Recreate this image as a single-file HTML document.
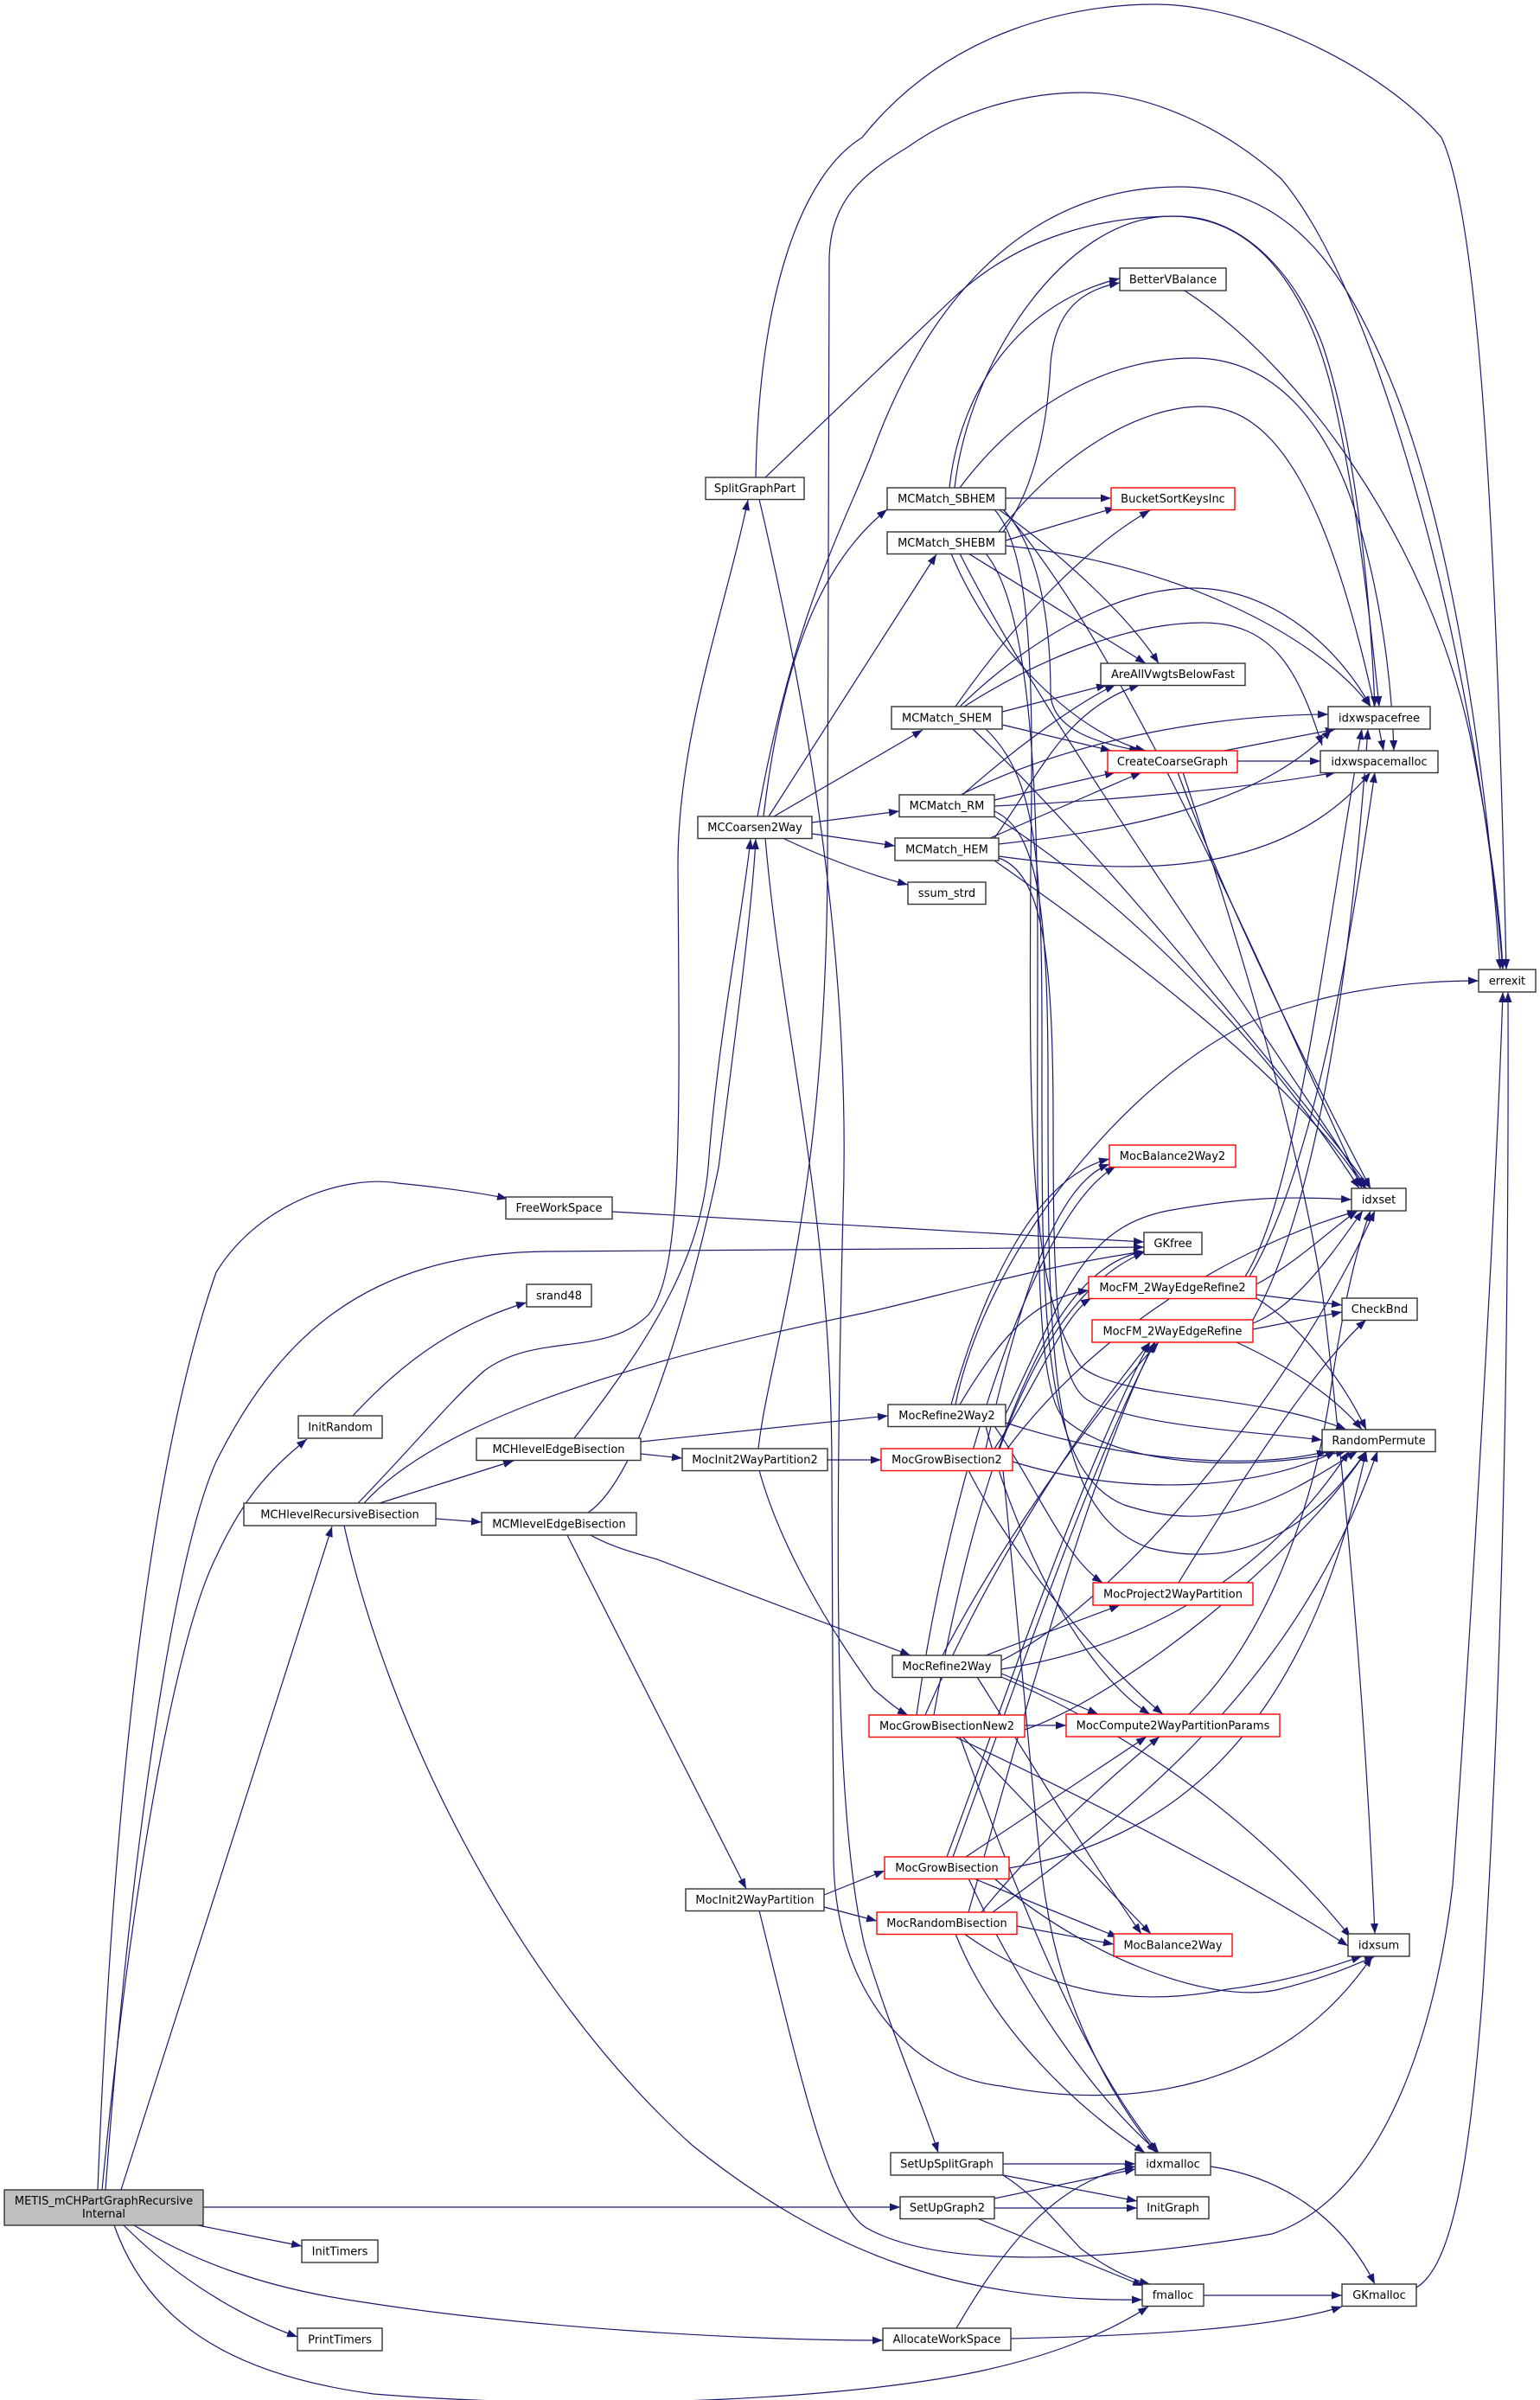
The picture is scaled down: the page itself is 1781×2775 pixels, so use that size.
<!DOCTYPE html>
<html>
<head>
<meta charset="utf-8">
<style>
html,body{margin:0;padding:0;background:#fff;}
svg{display:block;}
text{font-family:"DejaVu Sans","Liberation Sans",sans-serif;font-size:13px;fill:#000;}
.e{fill:none;stroke:#191970;stroke-width:1.2;}
.n{fill:#fff;stroke:#333;stroke-width:1.4;}
.r{fill:#fff;stroke:#ff0000;stroke-width:1.4;}
</style>
</head>
<body>
<svg width="1781" height="2775" viewBox="0 0 1781 2775" xmlns="http://www.w3.org/2000/svg">
<defs>
<marker id="a" viewBox="0 0 12 9" refX="12" refY="4.5" markerWidth="12" markerHeight="9" markerUnits="userSpaceOnUse" orient="auto">
<path d="M0,0 L12,4.5 L0,9 z" fill="#191970"/>
</marker>
</defs>
<rect x="0" y="0" width="1781" height="2775" fill="#fff"/>
<g class="e" marker-end="url(#a)">
<!-- METIS edges -->
<path d="M229 2573 L349 2597"/>
<path d="M143 2573 C190 2620 260 2672 344 2702"/>
<path d="M155 2573 C220 2612 300 2645 421 2662 C600 2690 850 2706 1021 2706"/>
<path d="M132 2573 C170 2680 260 2745 432 2768 C700 2790 1000 2772 1141 2740 C1230 2720 1290 2692 1328 2667"/>
<path d="M235 2552 L1041 2552"/>
<path d="M118 2532 C150 2200 200 1900 250 1800 C280 1735 310 1700 355 1664"/>
<path d="M140 2532 L384 1765"/>
<path d="M113 2532 C130 2100 170 1700 250 1471 C300 1390 400 1358 460 1368 C520 1374 560 1380 587 1386"/>
<path d="M122 2532 C150 2150 200 1800 250 1690 C320 1550 420 1449 633 1447 L1323 1442"/>
<!-- MCHlevelRecursiveBisection -->
<path d="M439 1738 L594 1689"/>
<path d="M504 1756 L557 1760"/>
<path d="M414 1738 C480 1670 520 1620 560 1585 C620 1540 700 1570 750 1520 C790 1470 786 1300 784 1000 C784 850 840 700 865 578"/>
<path d="M421 1738 C500 1650 700 1580 1000 1518 C1100 1495 1200 1465 1323 1447"/>
<path d="M398 1764 C450 2000 600 2300 800 2480 C950 2600 1100 2662 1321 2659"/>
<!-- FreeWorkSpace, InitRandom -->
<path d="M708 1401 L1323 1436"/>
<path d="M408 1637 C470 1570 530 1530 609 1506"/>
<!-- MCHlevelEdgeBisection -->
<path d="M664 1663 C760 1540 810 1450 819 1350 C830 1200 860 1050 868 970"/>
<path d="M741 1681 L789 1686"/>
<path d="M741 1667 L1027 1637"/>
<!-- MCMlevelEdgeBisection -->
<path d="M680 1749 C740 1710 800 1500 831 1350 C850 1200 870 1050 874 970"/>
<path d="M656 1775 C700 1860 750 1960 863 2184"/>
<path d="M683 1775 C710 1790 740 1797 760 1803 L1053 1914"/>
<!-- MocInit2WayPartition2 -->
<path d="M957 1688 L1019 1688"/>
<path d="M878 1700 C900 1780 950 1870 1010 1953 C1030 1970 1040 1978 1050 1983"/>
<path d="M877 1675 C890 1560 955 1400 957 1000 L959 300 C960 230 1000 200 1050 170 C1120 120 1200 107 1252 107 C1330 107 1420 150 1482 207 C1560 300 1620 500 1650 613 C1700 800 1728 1000 1738 1121"/>
<!-- MocInit2WayPartition -->
<path d="M953 2191 L1023 2163"/>
<path d="M953 2205 L1014 2221"/>
<path d="M878 2209 C930 2420 960 2550 1002 2576 C1080 2620 1250 2620 1471 2583 C1600 2540 1660 2350 1680 2180 C1700 1900 1730 1400 1738 1147"/>
<!-- SplitGraphPart -->
<path d="M874 552 C878 330 930 200 997 159 C1100 30 1250 5 1335 5 C1450 5 1600 80 1667 159 C1710 250 1730 600 1742 1121"/>
<path d="M885 552 L1099 348 C1180 270 1280 250 1361 250 C1440 250 1500 320 1530 400 C1570 520 1585 700 1590 817"/>
<path d="M878 577 C930 800 985 1100 975 1400 C965 1800 965 2100 1000 2250 C1030 2350 1070 2440 1085 2489"/>
<!-- MCCoarsen2Way -->
<path d="M883 944 C905 760 950 650 1026 589"/>
<path d="M889 944 L1083 641"/>
<path d="M895 944 L1067 844"/>
<path d="M939 951 L1040 938"/>
<path d="M939 964 L1035 978"/>
<path d="M905 969 C950 990 1000 1010 1050 1023"/>
<path d="M876 944 C920 700 980 600 1010 520 C1080 330 1200 216 1364 216 C1500 216 1560 330 1600 420 C1680 600 1720 900 1735 1121"/>
<path d="M885 969 C905 1200 962 1400 962 1700 L964 2150 C966 2300 1050 2400 1158 2412 C1300 2440 1480 2420 1587 2262"/>
<!-- MCMatch_SBHEM -->
<path d="M1163 576 L1285 576"/>
<path d="M1098 564 C1110 450 1180 350 1295 322"/>
<path d="M1155 589 C1240 650 1310 720 1340 767"/>
<path d="M1160 589 C1210 640 1215 750 1215 800 C1215 840 1260 858 1318 868"/>
<path d="M1104 564 C1120 420 1230 250 1355 250 C1450 250 1510 330 1540 450 C1570 580 1585 720 1595 817"/>
<path d="M1110 564 C1180 470 1280 414 1380 414 C1480 414 1540 500 1570 600 C1600 700 1610 800 1612 868"/>
<path d="M1160 589 C1300 750 1450 1100 1575 1374"/>
<path d="M1150 589 C1195 640 1195 800 1192 1000 C1190 1300 1190 1500 1250 1580 C1300 1620 1450 1610 1557 1653"/>
<!-- MCMatch_SHEBM -->
<path d="M1163 625 L1290 587"/>
<path d="M1160 615 C1200 560 1212 480 1215 420 C1220 360 1250 335 1295 327"/>
<path d="M1120 640 L1325 767"/>
<path d="M1100 640 C1150 760 1250 850 1325 868"/>
<path d="M1163 631 C1350 650 1520 730 1585 817"/>
<path d="M1155 615 C1230 520 1320 470 1390 470 C1470 470 1540 560 1600 868"/>
<path d="M1110 640 C1200 820 1400 1100 1580 1374"/>
<path d="M1140 640 C1190 700 1200 900 1200 1100 C1200 1400 1195 1600 1230 1640 C1300 1700 1450 1700 1557 1678"/>
<!-- MCMatch_SHEM -->
<path d="M1105 817 C1180 710 1260 630 1330 590"/>
<path d="M1159 823 L1280 792"/>
<path d="M1159 838 L1285 868"/>
<path d="M1110 817 C1200 730 1300 680 1380 680 C1480 680 1555 760 1585 817"/>
<path d="M1115 817 C1220 750 1320 720 1390 720 C1470 720 1500 770 1529 862"/>
<path d="M1125 843 C1250 960 1450 1200 1585 1374"/>
<path d="M1140 843 C1200 900 1205 1000 1205 1200 C1205 1500 1200 1700 1300 1740 C1420 1780 1500 1720 1570 1678"/>
<!-- MCMatch_RM -->
<path d="M1113 919 C1180 860 1250 810 1290 792"/>
<path d="M1150 925 L1290 893"/>
<path d="M1111 919 C1250 850 1420 826 1536 826"/>
<path d="M1150 932 C1300 925 1450 910 1545 893"/>
<path d="M1150 944 C1300 1040 1460 1200 1572 1374"/>
<path d="M1150 938 C1200 960 1212 1050 1212 1250 C1212 1550 1210 1750 1330 1790 C1450 1820 1530 1750 1580 1678"/>
<!-- MCMatch_HEM -->
<path d="M1150 969 C1200 900 1230 820 1318 792"/>
<path d="M1145 969 L1320 893"/>
<path d="M1155 976 C1300 960 1460 930 1540 843"/>
<path d="M1155 990 C1300 1010 1480 1020 1585 893"/>
<path d="M1150 995 C1300 1100 1500 1250 1578 1374"/>
<path d="M1155 992 C1205 1010 1218 1100 1218 1300 C1218 1500 1222 1600 1260 1620 C1320 1650 1450 1655 1529 1665"/>
<!-- CreateCoarseGraph -->
<path d="M1416 868 L1545 843"/>
<path d="M1431 880 L1527 880"/>
<path d="M1362 893 C1420 1050 1520 1250 1585 1374"/>
<path d="M1368 893 C1420 1050 1500 1300 1530 1500 C1560 1750 1580 2000 1590 2236"/>
<!-- BetterVBalance -->
<path d="M1370 336 C1500 420 1650 620 1700 850 C1720 950 1735 1050 1738 1121"/>
<!-- MocRefine2Way2 -->
<path d="M1100 1624 C1140 1480 1200 1360 1283 1340"/>
<path d="M1110 1624 C1160 1540 1200 1500 1259 1492"/>
<path d="M1150 1649 C1200 1720 1230 1800 1275 1830"/>
<path d="M1140 1649 C1180 1800 1260 1940 1330 1982"/>
<path d="M1105 1624 C1140 1450 1300 1250 1450 1180 C1550 1140 1650 1134 1710 1134"/>
<path d="M1163 1635 C1230 1500 1250 1420 1350 1400 C1450 1382 1500 1384 1563 1387"/>
<path d="M1163 1645 C1300 1690 1450 1700 1535 1678"/>
<!-- MocGrowBisection2 -->
<path d="M1150 1675 C1200 1600 1230 1520 1262 1501"/>
<path d="M1140 1675 C1180 1500 1220 1370 1283 1346"/>
<path d="M1120 1700 C1170 1800 1280 1930 1345 1982"/>
<path d="M1155 1675 C1200 1550 1250 1460 1323 1447"/>
<path d="M1160 1700 C1180 1900 1200 2150 1210 2200 C1230 2330 1290 2430 1337 2489"/>
<path d="M1165 1675 C1250 1560 1400 1450 1570 1400"/>
<path d="M1171 1690 C1300 1730 1450 1725 1545 1678"/>
<!-- MocRefine2Way -->
<path d="M1090 1914 C1150 1800 1250 1650 1340 1552"/>
<path d="M1140 1914 L1295 1856"/>
<path d="M1158 1935 L1270 1982"/>
<path d="M1130 1939 C1200 2050 1280 2180 1320 2236"/>
<path d="M1158 1920 C1300 1850 1500 1600 1590 1400"/>
<path d="M1158 1930 C1350 1900 1480 1800 1560 1678"/>
<path d="M1158 1939 C1300 2000 1450 2100 1562 2240"/>
<!-- MocGrowBisectionNew2 -->
<path d="M1185 1995 L1233 1995"/>
<path d="M1070 1983 C1150 1800 1250 1650 1330 1552"/>
<path d="M1060 1983 C1100 1700 1200 1400 1290 1349"/>
<path d="M1080 1983 C1130 1700 1200 1500 1323 1448"/>
<path d="M1110 2008 C1180 2200 1250 2380 1340 2489"/>
<path d="M1113 2008 L1331 2236"/>
<path d="M1104 2008 C1300 2100 1450 2180 1559 2250"/>
<path d="M1185 2000 C1300 1960 1500 1800 1580 1678"/>
<!-- MocGrowBisection -->
<path d="M1095 2147 C1150 2000 1250 1700 1330 1552"/>
<path d="M1102 2147 C1157 2000 1257 1700 1336 1552"/>
<path d="M1117 2147 L1326 2008"/>
<path d="M1126 2172 L1293 2240"/>
<path d="M1120 2172 C1180 2300 1260 2420 1340 2489"/>
<path d="M1150 2172 C1250 2260 1400 2320 1480 2300 C1540 2285 1570 2270 1590 2262"/>
<path d="M1167 2160 C1400 2120 1520 1950 1580 1678"/>
<!-- MocRandomBisection -->
<path d="M1135 2211 C1200 2130 1290 2050 1341 2008"/>
<path d="M1176 2227 L1288 2248"/>
<path d="M1105 2236 C1150 2350 1250 2440 1324 2489"/>
<path d="M1115 2236 C1220 2310 1320 2320 1420 2300 C1500 2290 1550 2270 1575 2262"/>
<path d="M1148 2211 C1300 2100 1500 1950 1593 1678"/>
<path d="M1120 2211 C1180 2000 1260 1700 1335 1552"/>
<!-- MocCompute2WayPartitionParams / Project / FM -->
<path d="M1375 1982 C1460 1900 1520 1750 1540 1600 C1555 1500 1570 1440 1585 1400"/>
<path d="M1363 1830 C1430 1720 1520 1580 1580 1526"/>
<path d="M1453 1485 C1500 1460 1540 1420 1570 1400"/>
<path d="M1453 1497 L1552 1509"/>
<path d="M1453 1501 C1500 1530 1550 1590 1580 1653"/>
<path d="M1440 1476 C1500 1380 1530 1100 1575 843"/>
<path d="M1445 1476 C1520 1350 1560 1100 1590 893"/>
<path d="M1449 1530 C1500 1510 1540 1450 1576 1400"/>
<path d="M1449 1537 L1552 1517"/>
<path d="M1430 1552 C1480 1575 1540 1610 1575 1653"/>
<path d="M1449 1526 C1520 1400 1560 1150 1582 843"/>
<!-- lower right -->
<path d="M1160 2502 L1313 2502"/>
<path d="M1160 2515 L1315 2545"/>
<path d="M1160 2515 C1200 2540 1230 2580 1250 2600 C1280 2622 1305 2635 1330 2641"/>
<path d="M1150 2542 L1313 2508"/>
<path d="M1150 2553 L1315 2553"/>
<path d="M1130 2565 L1322 2643"/>
<path d="M1106 2692 C1160 2600 1220 2520 1313 2505"/>
<path d="M1169 2704 C1350 2700 1480 2690 1552 2667"/>
<path d="M1400 2505 C1500 2520 1560 2580 1590 2641"/>
<path d="M1392 2654 L1552 2654"/>
<path d="M1638 2645 C1680 2620 1700 2500 1715 2300 C1740 1900 1745 1500 1744 1147"/>
</g>
<!-- nodes -->
<g>
<rect class="n" x="5" y="2532" width="230" height="41" fill="#bfbfbf" style="fill:#bfbfbf"/>
<text x="120" y="2549" text-anchor="middle">METIS_mCHPartGraphRecursive</text>
<text x="120" y="2564" text-anchor="middle">Internal</text>

<rect class="n" x="349" y="2590" width="88" height="26"/><text x="393" y="2607.5" text-anchor="middle">InitTimers</text>
<rect class="n" x="344" y="2692" width="98" height="26"/><text x="393" y="2709.5" text-anchor="middle">PrintTimers</text>
<rect class="n" x="1021" y="2692" width="148" height="25.5"/><text x="1095" y="2709" text-anchor="middle">AllocateWorkSpace</text>
<rect class="n" x="1041" y="2540" width="109" height="25.5"/><text x="1095.5" y="2557" text-anchor="middle">SetUpGraph2</text>
<rect class="n" x="1030" y="2489" width="130" height="26"/><text x="1095" y="2506.5" text-anchor="middle">SetUpSplitGraph</text>
<rect class="n" x="1313" y="2489" width="87" height="26"/><text x="1356.5" y="2506.5" text-anchor="middle">idxmalloc</text>
<rect class="n" x="1315" y="2540" width="83" height="25.5"/><text x="1356.5" y="2557" text-anchor="middle">InitGraph</text>
<rect class="n" x="1321" y="2641" width="71" height="25.5"/><text x="1356.5" y="2658" text-anchor="middle">fmalloc</text>
<rect class="n" x="1552" y="2641" width="86" height="25.5"/><text x="1595" y="2658" text-anchor="middle">GKmalloc</text>
<rect class="n" x="1559" y="2236" width="71" height="26"/><text x="1594.5" y="2253.5" text-anchor="middle">idxsum</text>
<rect class="r" x="1288" y="2236" width="137" height="26"/><text x="1356.5" y="2253.5" text-anchor="middle">MocBalance2Way</text>
<rect class="r" x="1014" y="2211" width="162" height="25.5"/><text x="1095" y="2228" text-anchor="middle">MocRandomBisection</text>
<rect class="n" x="793" y="2184" width="160" height="25.5"/><text x="873" y="2201" text-anchor="middle">MocInit2WayPartition</text>
<rect class="r" x="1023" y="2147" width="144" height="25.5"/><text x="1095" y="2164" text-anchor="middle">MocGrowBisection</text>
<rect class="r" x="1005" y="1983" width="180" height="25.5"/><text x="1095" y="2000" text-anchor="middle">MocGrowBisectionNew2</text>
<rect class="r" x="1233" y="1982" width="247" height="26"/><text x="1356.5" y="1999.5" text-anchor="middle">MocCompute2WayPartitionParams</text>
<rect class="n" x="1032" y="1914" width="126" height="25.5"/><text x="1095" y="1931" text-anchor="middle">MocRefine2Way</text>
<rect class="r" x="1264" y="1830" width="185" height="26"/><text x="1356.5" y="1847.5" text-anchor="middle">MocProject2WayPartition</text>
<rect class="n" x="557" y="1749" width="179" height="26"/><text x="646.5" y="1766.5" text-anchor="middle">MCMlevelEdgeBisection</text>
<rect class="n" x="282" y="1738" width="222" height="26"/><text x="393" y="1755.5" text-anchor="middle">MCHlevelRecursiveBisection</text>
<rect class="n" x="789" y="1675" width="168" height="25.5"/><text x="873" y="1692" text-anchor="middle">MocInit2WayPartition2</text>
<rect class="r" x="1019" y="1675" width="152" height="25.5"/><text x="1095" y="1692" text-anchor="middle">MocGrowBisection2</text>
<rect class="n" x="551" y="1663" width="190" height="25.5"/><text x="646" y="1680" text-anchor="middle">MCHlevelEdgeBisection</text>
<rect class="n" x="345" y="1637" width="97" height="26"/><text x="393.5" y="1654.5" text-anchor="middle">InitRandom</text>
<rect class="n" x="1529" y="1653" width="131" height="25.5"/><text x="1594.5" y="1670" text-anchor="middle">RandomPermute</text>
<rect class="n" x="1027" y="1624" width="136" height="25.5"/><text x="1095" y="1641" text-anchor="middle">MocRefine2Way2</text>
<rect class="r" x="1263" y="1526" width="186" height="26"/><text x="1356" y="1543.5" text-anchor="middle">MocFM_2WayEdgeRefine</text>
<rect class="n" x="1552" y="1501" width="87" height="25.5"/><text x="1595.5" y="1518" text-anchor="middle">CheckBnd</text>
<rect class="r" x="1259" y="1476" width="194" height="25.5"/><text x="1356" y="1493" text-anchor="middle">MocFM_2WayEdgeRefine2</text>
<rect class="n" x="609" y="1485" width="75" height="26"/><text x="646.5" y="1502.5" text-anchor="middle">srand48</text>
<rect class="n" x="1323" y="1425" width="67" height="25.5"/><text x="1356.5" y="1442" text-anchor="middle">GKfree</text>
<rect class="n" x="585" y="1384" width="123" height="25.5"/><text x="646.5" y="1401" text-anchor="middle">FreeWorkSpace</text>
<rect class="n" x="1563" y="1374" width="63" height="26"/><text x="1594.5" y="1391.5" text-anchor="middle">idxset</text>
<rect class="r" x="1283" y="1324" width="146" height="25.5"/><text x="1356" y="1341" text-anchor="middle">MocBalance2Way2</text>
<rect class="n" x="1710" y="1121" width="66" height="26"/><text x="1743" y="1138.5" text-anchor="middle">errexit</text>
<rect class="n" x="1050" y="1020" width="90" height="25.5"/><text x="1095" y="1037" text-anchor="middle">ssum_strd</text>
<rect class="n" x="1035" y="969" width="120" height="26"/><text x="1095" y="986.5" text-anchor="middle">MCMatch_HEM</text>
<rect class="n" x="807" y="944" width="132" height="25.5"/><text x="873" y="961" text-anchor="middle">MCCoarsen2Way</text>
<rect class="n" x="1040" y="919" width="110" height="25.5"/><text x="1095" y="936" text-anchor="middle">MCMatch_RM</text>
<rect class="r" x="1281" y="868" width="150" height="25.5"/><text x="1356" y="885" text-anchor="middle">CreateCoarseGraph</text>
<rect class="n" x="1527" y="868" width="136" height="25.5"/><text x="1595" y="885" text-anchor="middle">idxwspacemalloc</text>
<rect class="n" x="1031" y="817" width="128" height="26"/><text x="1095" y="834.5" text-anchor="middle">MCMatch_SHEM</text>
<rect class="n" x="1536" y="817" width="118" height="26"/><text x="1595" y="834.5" text-anchor="middle">idxwspacefree</text>
<rect class="n" x="1273" y="767" width="167" height="25.5"/><text x="1356.5" y="784" text-anchor="middle">AreAllVwgtsBelowFast</text>
<rect class="n" x="1026" y="615" width="137" height="25.5"/><text x="1094.5" y="632" text-anchor="middle">MCMatch_SHEBM</text>
<rect class="n" x="1026" y="564" width="137" height="25.5"/><text x="1094.5" y="581" text-anchor="middle">MCMatch_SBHEM</text>
<rect class="r" x="1285" y="564" width="143" height="25.5"/><text x="1356.5" y="581" text-anchor="middle">BucketSortKeysInc</text>
<rect class="n" x="816" y="552" width="114" height="25.5"/><text x="873" y="569" text-anchor="middle">SplitGraphPart</text>
<rect class="n" x="1295" y="310" width="123" height="26"/><text x="1356.5" y="327.5" text-anchor="middle">BetterVBalance</text>
</g>
</svg>
</body>
</html>
